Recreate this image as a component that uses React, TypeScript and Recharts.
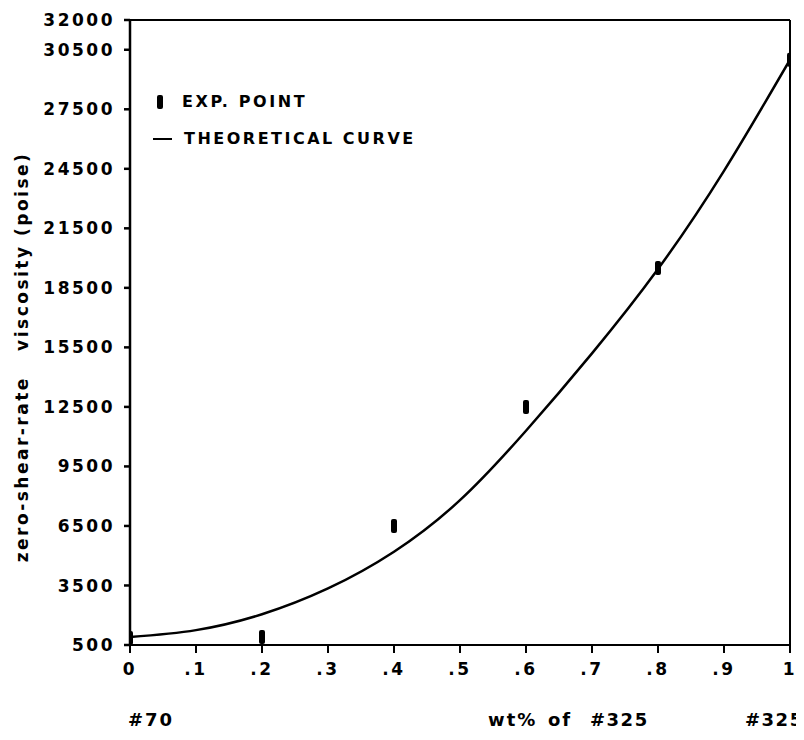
import React from "react";
import {
  ComposedChart,
  Line,
  Scatter,
  XAxis,
  YAxis,
  ReferenceLine,
} from "recharts";

// Tick positions
const xTicks = [0, 0.1, 0.2, 0.3, 0.4, 0.5, 0.6, 0.7, 0.8, 0.9, 1];
const yTicks = [500, 3500, 6500, 9500, 12500, 15500, 18500, 21500, 24500, 27500, 30500, 32000];

// Experimental points: weight fraction of #325 vs zero-shear-rate viscosity (poise)
const expFraction = [0, 0.2, 0.4, 0.6, 0.8, 1.0];
const expViscosity = [850, 900, 6500, 12500, 19500, 30000];

// Theoretical curve
const curveFraction = [0, 0.1, 0.2, 0.3, 0.4, 0.5, 0.6, 0.7, 0.8, 0.9, 1.0];
const curveViscosity = [900, 1250, 2050, 3350, 5200, 7800, 11300, 15200, 19450, 24400, 30000];

const expData = expFraction.map((x, i) => ({ x, y: expViscosity[i] }));
const curveData = curveFraction.map((x, i) => ({ x, y: curveViscosity[i] }));

const FONT = "'DejaVu Sans', Arial, sans-serif";

const tickStyle = {
  fill: "#000",
  fontSize: 17,
  fontWeight: "bold" as const,
  fontFamily: FONT,
  letterSpacing: 2.5,
};

const formatX = (v: number) => {
  if (v === 0) return "0";
  if (v === 1) return "1";
  return "." + Math.round(v * 10);
};

// Small filled bar used for each experimental point
const ExpMark = (props: any) => {
  const { cx, cy } = props;
  if (cx == null || cy == null) return null;
  return <rect x={cx - 3} y={cy - 7} width={6} height={14} rx={2} fill="#000" />;
};

const textBase: React.CSSProperties = {
  position: "absolute",
  fontFamily: FONT,
  fontWeight: "bold",
  color: "#000",
  whiteSpace: "nowrap",
  lineHeight: 1,
};

export default function App() {
  return (
    <div style={{ position: "relative", width: 796, height: 732 }}>
      <ComposedChart
        width={796}
        height={732}
        margin={{ top: 12, right: 14, bottom: 60, left: 0 }}
      >
        <XAxis
          type="number"
          dataKey="x"
          domain={[0, 1]}
          ticks={xTicks}
          tickFormatter={formatX}
          allowDataOverflow
          stroke="#000"
          strokeWidth={2}
          tickSize={8}
          tickMargin={10}
          tick={tickStyle}
          height={35}
          interval={0}
        />
        <YAxis
          type="number"
          dataKey="y"
          domain={[500, 32000]}
          ticks={yTicks}
          allowDataOverflow
          stroke="#000"
          strokeWidth={2.5}
          tickSize={6}
          tickMargin={9}
          tick={tickStyle}
          width={122}
          interval={0}
        />
        <ReferenceLine y={32000} stroke="#000" strokeWidth={2} />
        <ReferenceLine x={1} stroke="#000" strokeWidth={2} />
        <Line
          data={curveData}
          dataKey="y"
          type="natural"
          stroke="#000"
          strokeWidth={2.5}
          dot={false}
          activeDot={false}
          isAnimationActive={false}
        />
        <Scatter
          data={expData}
          dataKey="y"
          shape={<ExpMark />}
          isAnimationActive={false}
        />
      </ComposedChart>

      {/* Legend */}
      <div
        style={{
          position: "absolute",
          left: 149,
          top: 87,
          width: 6,
          height: 14,
          borderRadius: 2,
          background: "#000",
        }}
      />
      <div style={{ ...textBase, left: 174, top: 86, fontSize: 16, letterSpacing: 2.6 }}>
        EXP. POINT
      </div>
      <div
        style={{
          position: "absolute",
          left: 145,
          top: 130,
          width: 19,
          height: 2,
          background: "#000",
        }}
      />
      <div style={{ ...textBase, left: 176, top: 123, fontSize: 16, letterSpacing: 2.5 }}>
        THEORETICAL CURVE
      </div>

      {/* Y axis title */}
      <div
        style={{
          ...textBase,
          left: 14,
          top: 349,
          fontSize: 17,
          letterSpacing: 2.5,
          transform: "translate(-50%, -50%) rotate(-90deg)",
        }}
      >
        zero-shear-rate&nbsp;&nbsp;&nbsp;viscosity&nbsp;(poise)
      </div>

      {/* X axis captions */}
      <div style={{ ...textBase, left: 120, top: 703, fontSize: 18, letterSpacing: 2 }}>
        #70
      </div>
      <div style={{ ...textBase, left: 480, top: 703, fontSize: 18, letterSpacing: 2 }}>
        wt%
      </div>
      <div style={{ ...textBase, left: 540, top: 703, fontSize: 18, letterSpacing: 2 }}>
        of
      </div>
      <div style={{ ...textBase, left: 582, top: 703, fontSize: 18, letterSpacing: 1.5 }}>
        #325
      </div>
      <div style={{ ...textBase, left: 737, top: 703, fontSize: 18, letterSpacing: 1.5 }}>
        #325
      </div>
    </div>
  );
}
